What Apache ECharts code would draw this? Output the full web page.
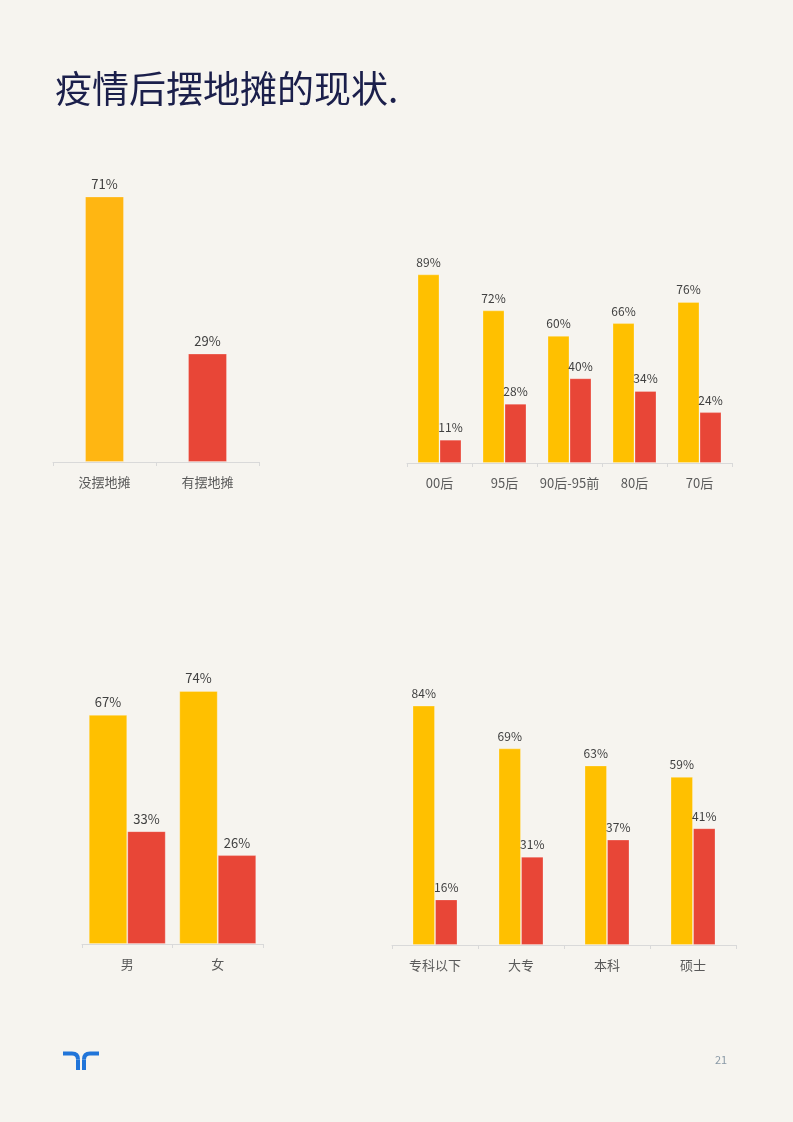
<!DOCTYPE html>
<html>
<head>
<meta charset="utf-8">
<script src="https://cdn.jsdelivr.net/npm/echarts@6/dist/echarts.min.js"></script>
<style>
html,body{margin:0;padding:0;background:#F6F4EF;}
#main{width:793px;height:1122px;}
</style>
</head>
<body>
<div id="main"></div>
<script>
// Data
const titleText = '疫情后摆地摊的现状.';
const overallCats = ['没摆地摊', '有摆地摊'];
const overallVals = [71, 29];
const ageCats = ['00后', '95后', '90后-95前', '80后', '70后'];
const ageNo = [89, 72, 60, 66, 76];
const ageYes = [11, 28, 40, 34, 24];
const genderCats = ['男', '女'];
const genderNo = [67, 74];
const genderYes = [33, 26];
const eduCats = ['专科以下', '大专', '本科', '硕士'];
const eduNo = [84, 69, 63, 59];
const eduYes = [16, 31, 37, 41];
const seriesNames = ['没摆地摊', '有摆地摊'];
const pageNumber = '21';

const YELLOW = '#FFC000';
const AMBER = '#FFB612';
const RED = '#E84637';
const BLUE = '#2175D9';
const FONT = '"Noto Sans CJK SC", "Noto Sans", sans-serif';

const chart = echarts.init(document.getElementById('main'), null, {renderer: 'canvas'});

const grids = [
  {left: 53, width: 206, top: 88, height: 374},
  {left: 407, width: 325, top: 251, height: 212},
  {left: 82, width: 181, top: 602, height: 342},
  {left: 392, width: 344, top: 660, height: 285}
];
const catSets = [overallCats, ageCats, genderCats, eduCats];
const labelSizes = [13, 12, 13, 12];

const xAxes = catSets.map((c, i) => ({
  type: 'category', gridIndex: i, data: c,
  axisLine: {lineStyle: {color: '#D9D9D9', width: 1}},
  axisTick: {show: true, length: 4, lineStyle: {color: '#D9D9D9'}},
  axisLabel: {color: '#595959', fontSize: 13, margin: 14, fontFamily: FONT, interval: 0}
}));
const yAxes = grids.map((g, i) => ({
  type: 'value', gridIndex: i, min: 0, max: 100, show: false,
  splitLine: {show: false}
}));

function lbl(size) {
  return {show: true, position: 'top', distance: 6, formatter: '{c}%', color: '#404040', fontSize: size, fontFamily: FONT};
}
const border = {borderColor: 'rgba(255,255,255,0.25)', borderWidth: 1};

const series = [
  {
    type: 'bar', name: '摆地摊', xAxisIndex: 0, yAxisIndex: 0, barWidth: 39,
    data: overallVals.map((v, i) => ({value: v, itemStyle: Object.assign({color: i === 0 ? AMBER : RED}, border)})),
    label: lbl(labelSizes[0])
  },
  {type: 'bar', name: seriesNames[0], xAxisIndex: 1, yAxisIndex: 1, barWidth: 22, barGap: '0%', data: ageNo, itemStyle: Object.assign({color: YELLOW}, border), label: lbl(labelSizes[1])},
  {type: 'bar', name: seriesNames[1], xAxisIndex: 1, yAxisIndex: 1, barWidth: 22, barGap: '0%', data: ageYes, itemStyle: Object.assign({color: RED}, border), label: lbl(labelSizes[1])},
  {type: 'bar', name: seriesNames[0], xAxisIndex: 2, yAxisIndex: 2, barWidth: 38.5, barGap: '0%', data: genderNo, itemStyle: Object.assign({color: YELLOW}, border), label: lbl(labelSizes[2])},
  {type: 'bar', name: seriesNames[1], xAxisIndex: 2, yAxisIndex: 2, barWidth: 38.5, barGap: '0%', data: genderYes, itemStyle: Object.assign({color: RED}, border), label: lbl(labelSizes[2])},
  {type: 'bar', name: seriesNames[0], xAxisIndex: 3, yAxisIndex: 3, barWidth: 22.5, barGap: '0%', data: eduNo, itemStyle: Object.assign({color: YELLOW}, border), label: lbl(labelSizes[3])},
  {type: 'bar', name: seriesNames[1], xAxisIndex: 3, yAxisIndex: 3, barWidth: 22.5, barGap: '0%', data: eduYes, itemStyle: Object.assign({color: RED}, border), label: lbl(labelSizes[3])}
];

const logoStroke = {stroke: BLUE, lineWidth: 4, fill: null};

chart.setOption({
  backgroundColor: '#F6F4EF',
  animation: false,
  textStyle: {fontFamily: FONT},
  grid: grids,
  xAxis: xAxes,
  yAxis: yAxes,
  series: series,
  graphic: [
    {type: 'text', x: 55, y: 70, style: {text: titleText, fill: '#1B1F4B', font: '37px ' + FONT}},
    {type: 'polyline', shape: {points: [[63, 1053.5], [72, 1053.5]]}, style: logoStroke},
    {type: 'bezierCurve', shape: {x1: 72, y1: 1053.5, cpx1: 78, cpy1: 1053.5, x2: 78, y2: 1059.5}, style: logoStroke},
    {type: 'polyline', shape: {points: [[78, 1059.5], [78, 1070]]}, style: logoStroke},
    {type: 'polyline', shape: {points: [[99, 1053.5], [90, 1053.5]]}, style: logoStroke},
    {type: 'bezierCurve', shape: {x1: 90, y1: 1053.5, cpx1: 84, cpy1: 1053.5, x2: 84, y2: 1059.5}, style: logoStroke},
    {type: 'polyline', shape: {points: [[84, 1059.5], [84, 1070]]}, style: logoStroke},
    {type: 'text', x: 715, y: 1054, style: {text: pageNumber, fill: '#8A99A6', font: '11px ' + FONT}}
  ]
});
</script>
</body>
</html>
